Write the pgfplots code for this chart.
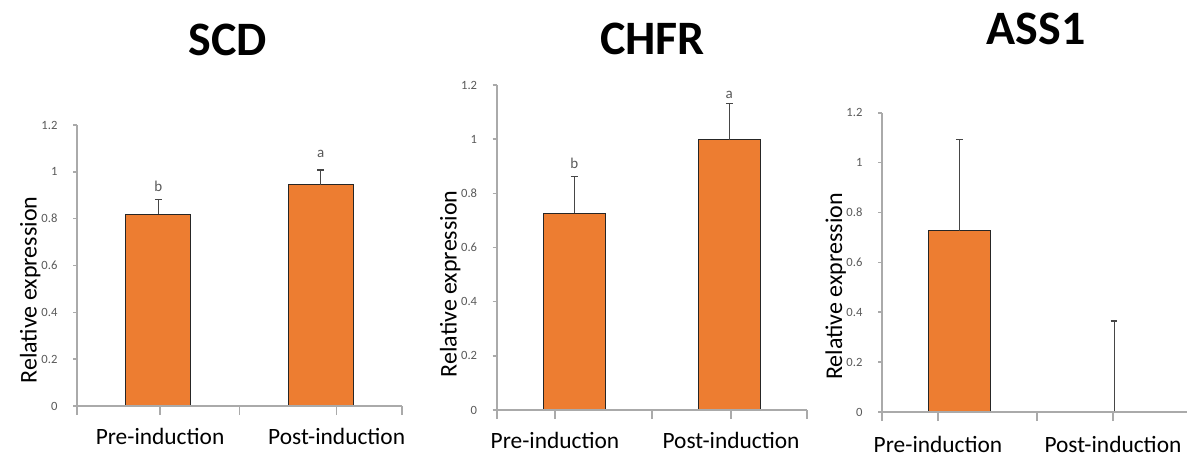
\documentclass[border=0pt]{standalone}
\usepackage{fontspec}
\setmainfont{Carlito}
\usepackage{pgfplots}
\pgfplotsset{compat=1.18}
\definecolor{barorange}{RGB}{237,125,49}
\definecolor{axgray}{RGB}{170,170,170}
\definecolor{tickgray}{RGB}{89,89,89}
\definecolor{errgray}{RGB}{70,70,70}
\tikzset{letter/.style={font=\fontsize{7.5}{8}\selectfont, text=tickgray}}
\pgfplotsset{
  excel/.style={
    scale only axis,
    anchor=south west,
    ymin=0, ymax=1.2,
    ytick={0,0.2,0.4,0.6,0.8,1,1.2},
    xmin=-0.5, xmax=1.5,
    axis x line*=bottom, axis y line*=left,
    axis line style={draw=axgray, line width=0.8pt},
    tick align=outside,
    xtick={-0.5,0.5,1.5}, xticklabels={},
    xtick style={draw=axgray, line width=0.8pt, /pgfplots/major tick length=4.5pt},
    ytick style={draw=axgray, line width=0.8pt, /pgfplots/major tick length=2pt},
    extra x tick style={/pgfplots/major tick length=0pt, draw=none},
    xticklabel style={font=\fontsize{11.7}{14}\selectfont, anchor=base, yshift=-19pt},
    yticklabel style={font=\fontsize{6.3}{7}\selectfont, text=tickgray, xshift=-2pt},
    /pgf/number format/assume math mode=true,
    /pgf/number format/fixed,
    ylabel={Relative expression},
    ylabel style={font=\fontsize{12}{14}\selectfont, anchor=base, rotate=0},
    ybar, bar width=0.4,
    axis on top,
    clip=false,
  },
  bars/.style={
    fill=barorange, draw=black!85, line width=0.5pt,
    error bars/.cd, y dir=plus, y explicit,
    error mark=|,
    error bar style={errgray, line width=0.5pt},
    error mark options={draw=errgray, mark size=1.7pt, line width=0.6pt, solid},
  },
}
\pgfplotstableread{
x y e
0 0.818 0.065
1 0.944 0.064
}\scd
\pgfplotstableread{
x y e
0 0.726 0.136
1 0.997 0.136
}\chfr
\pgfplotstableread{
x y e
0 0.727 0.366
1 0.000 0.365
}\assone
\begin{document}
\begin{tikzpicture}
\useasboundingbox (0,0) rectangle (593.5pt,228pt);
% SCD
\begin{axis}[excel, at={(38.5pt,25pt)}, width=162.5pt, height=140.5pt,
  extra x ticks={0.011,1.098}, extra x tick labels={Pre-induction,Post-induction},
  ylabel style={at={(axis description cs:-0.124,0.413)}}]
\addplot[bars] table[x=x, y=y, y error=e] {\scd};
\node[letter] at (axis cs:0,0.94) {b};
\node[letter] at (axis cs:1,1.075) {a};
\end{axis}
% CHFR
\begin{axis}[excel, at={(248.35pt,23pt)}, width=155pt, height=162.5pt,
  extra x ticks={-0.124,1.012}, extra x tick labels={Pre-induction,Post-induction},
  ylabel style={at={(axis description cs:-0.129,0.388)}}]
\addplot[bars] table[x=x, y=y, y error=e] {\chfr};
\node[letter] at (axis cs:0,0.911) {b};
\node[letter] at (axis cs:1,1.165) {a};
\end{axis}
% ASS1
\begin{axis}[excel, at={(441pt,22pt)}, width=154.7pt, height=149.65pt,
  extra x ticks={-0.138,0.993}, extra x tick labels={Pre-induction,Post-induction},
  xticklabel style={yshift=-1pt},
  ylabel style={at={(axis description cs:-0.129,0.419)}}]
\addplot[bars] table[x=x, y=y, y error=e] {\assone};
\end{axis}
\node[anchor=base, font=\fontsize{24}{28}\selectfont\bfseries] at (113.75pt,200pt) {SCD};
\node[anchor=base, font=\fontsize{24}{28}\selectfont\bfseries] at (326.25pt,200.5pt) {CHFR};
\node[anchor=base, font=\fontsize{24}{28}\selectfont\bfseries] at (518pt,205.5pt) {ASS1};
\end{tikzpicture}
\end{document}
